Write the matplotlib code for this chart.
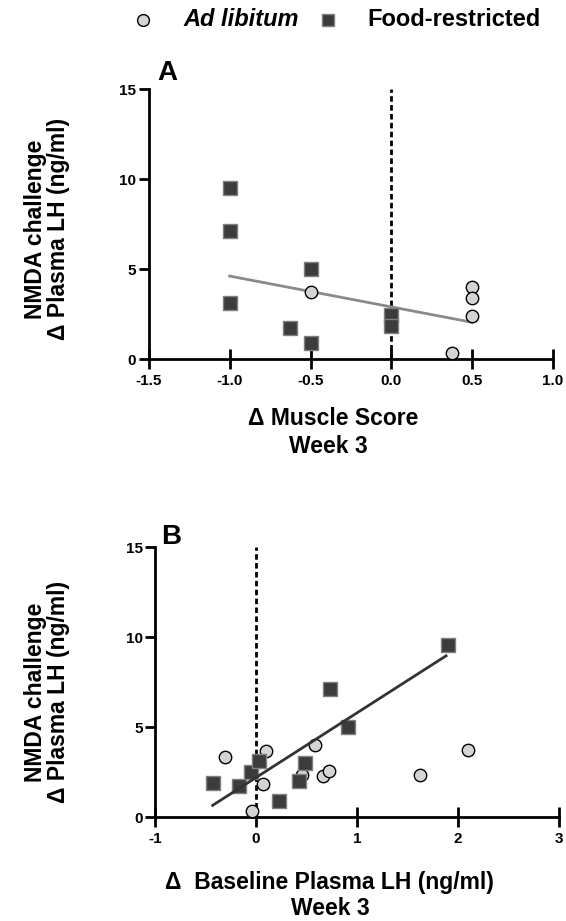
import numpy as np
import matplotlib.pyplot as plt
from matplotlib.lines import Line2D

plt.rcParams['font.family'] = ['Liberation Sans', 'DejaVu Sans']
plt.rcParams['font.weight'] = 'bold'

# Panel A: change in muscle score vs NMDA-induced LH
a_fr_x = [-1.0, -1.0, -1.0, -0.625, -0.5, -0.5, 0.0, 0.0]
a_fr_y = [9.54, 7.10, 3.11, 1.76, 4.99, 0.92, 2.46, 1.85]
a_al_x = [-0.5, 0.5, 0.5, 0.5, 0.375]
a_al_y = [3.75, 4.03, 3.40, 2.40, 0.33]
a_fit_x = [-1.0, 0.5]
a_fit_y = [4.62, 2.05]

# Panel B: change in baseline LH vs NMDA-induced LH
b_fr_x = [-0.43, -0.165, -0.05, 0.033, 0.23, 0.42, 0.485, 0.736, 0.908, 1.90]
b_fr_y = [1.89, 1.74, 2.48, 3.13, 0.91, 1.98, 3.00, 7.11, 4.98, 9.54]
b_al_x = [-0.31, 0.10, 0.066, -0.04, 0.455, 0.587, 0.66, 0.726, 1.627, 2.096]
b_al_y = [3.33, 3.65, 1.85, 0.31, 2.35, 4.02, 2.26, 2.54, 2.35, 3.70]
b_fit_x = [-0.43, 1.88]
b_fit_y = [0.65, 8.96]

a_xticks = [-1.5, -1.0, -0.5, 0.0, 0.5, 1.0]
b_xticks = [-1, 0, 1, 2, 3]
yticks = [0, 5, 10, 15]

sq_face = '#3c3c3c'
sq_edge = '#808080'
ci_face = '#d4d4d4'

W, H = 566, 921
fig = plt.figure(figsize=(W / 100, H / 100), dpi=100)
axA = fig.add_axes([0.263, 0.610, 0.714, 0.293])
axB = fig.add_axes([0.274, 0.1129, 0.714, 0.293])


def style_axes(ax, xticks, xfmt):
    for s in ['top', 'right']:
        ax.spines[s].set_visible(False)
    for s in ['left', 'bottom']:
        ax.spines[s].set_linewidth(2.0)
    ax.set_xlim(xticks[0], xticks[-1])
    ax.set_ylim(0, 15)
    ax.set_xticks(xticks)
    ax.set_xticklabels([xfmt(t) for t in xticks])
    ax.set_yticks(yticks)
    ax.tick_params(axis='x', direction='inout', length=14, width=2,
                   labelsize=11, pad=4)
    ax.tick_params(axis='y', direction='out', length=7, width=2,
                   labelsize=11, pad=2)
    for lab in ax.get_xticklabels() + ax.get_yticklabels():
        lab.set_fontweight('bold')
    ax.axvline(0, color='black', lw=2, ls=(0, (2, 1.2)), zorder=1)


def draw_points(ax, fx, fy, cx, cy):
    ax.scatter(cx, cy, s=80, marker='o', facecolor=ci_face,
               edgecolor='black', linewidth=1.0, zorder=3, clip_on=False)
    ax.scatter(fx, fy, s=95, marker='s', facecolor=sq_face,
               edgecolor=sq_edge, linewidth=1.0, zorder=4, clip_on=False)


style_axes(axA, a_xticks, lambda t: f'{t:.1f}')
axA.plot(a_fit_x, a_fit_y, color='#8a8a8a', lw=2, zorder=2)
draw_points(axA, a_fr_x, a_fr_y, a_al_x, a_al_y)

style_axes(axB, b_xticks, lambda t: f'{t:d}')
axB.plot(b_fit_x, b_fit_y, color='#333333', lw=2, zorder=5)
draw_points(axB, b_fr_x, b_fr_y, b_al_x, b_al_y)


def fx(px):
    return px / W


def fy(py):
    return 1 - py / H


# panel letters
fig.text(fx(157), fy(73), 'A', fontsize=20, fontweight='bold', ha='left', va='center')
fig.text(fx(161), fy(537), 'B', fontsize=20, fontweight='bold', ha='left', va='center')

# y labels
for yc in [229, 692]:
    fig.text(fx(36), fy(yc), 'NMDA challenge', rotation=90, fontsize=16.5,
             fontweight='bold', ha='center', va='center')
    fig.text(fx(59), fy(yc), '\u0394 Plasma LH (ng/ml)', rotation=90, fontsize=16.5,
             fontweight='bold', ha='center', va='center')

# x labels
fig.text(fx(333), fy(418), '\u0394 Muscle Score', fontsize=16.5,
         fontweight='bold', ha='center', va='center')
fig.text(fx(328), fy(446), 'Week 3', fontsize=16.5,
         fontweight='bold', ha='center', va='center')
fig.text(fx(329), fy(882), '\u0394  Baseline Plasma LH (ng/ml)', fontsize=16.5,
         fontweight='bold', ha='center', va='center')
fig.text(fx(330), fy(908), 'Week 3', fontsize=16.5,
         fontweight='bold', ha='center', va='center')

# legend across the top
fig.add_artist(Line2D([fx(143)], [fy(20)], transform=fig.transFigure, ls='none',
                      marker='o', ms=8.5, mfc=ci_face, mec='black', mew=1))
fig.add_artist(Line2D([fx(328)], [fy(20)], transform=fig.transFigure, ls='none',
                      marker='s', ms=8, mfc=sq_face, mec=sq_edge, mew=1))
fig.text(fx(183), fy(20), 'Ad libitum', fontsize=17, fontweight='bold',
         style='italic', ha='left', va='center')
fig.text(fx(367), fy(20), 'Food-restricted', fontsize=17, fontweight='bold',
         ha='left', va='center')

fig.savefig('out.png', dpi=100)
